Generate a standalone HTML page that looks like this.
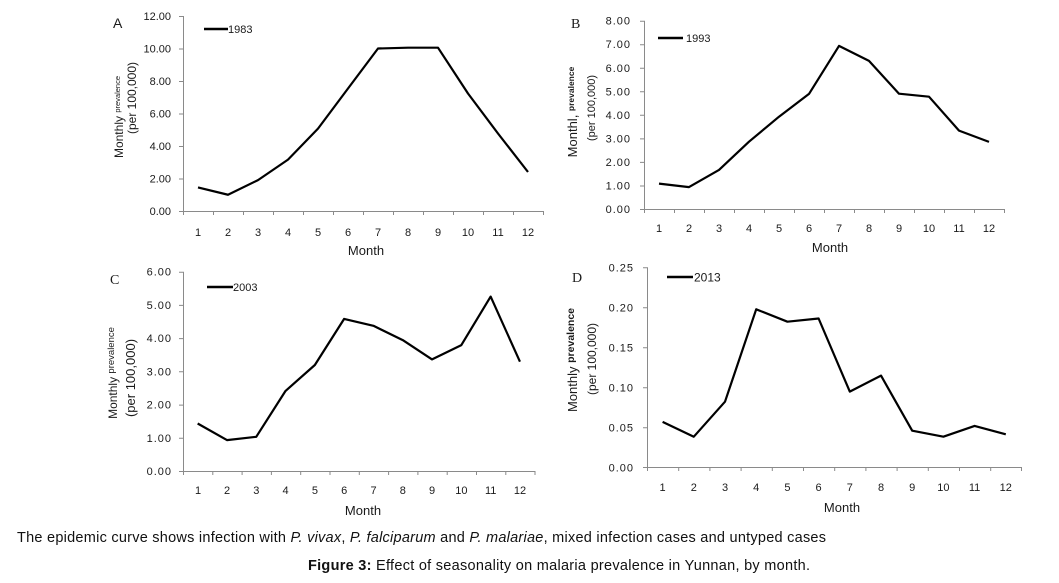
<!DOCTYPE html>
<html><head><meta charset="utf-8"><style>
html,body{margin:0;padding:0;background:#fff;}
svg{display:block;}
text{font-family:"Liberation Sans",Arial,sans-serif;fill:#1a1a1a;}
.tk{font-size:11px;}
.ls{letter-spacing:1px;}
.ax{stroke:#8a8a8a;stroke-width:1;fill:none;}
.ser{stroke:#000;stroke-width:2.2;fill:none;stroke-linejoin:round;}
.leg{stroke:#000;stroke-width:2.6;}
</style></head><body>
<svg width="1059" height="583" viewBox="0 0 1059 583" xmlns="http://www.w3.org/2000/svg">
<rect width="1059" height="583" fill="#fff"/>

<!-- ===== Panel A ===== -->
<text x="113" y="28" font-size="14">A</text>
<path class="ax" d="M183.5 16V211.5H543 M179 211.5H183 M179 179H183 M179 146.5H183 M179 114H183 M179 81.5H183 M179 49H183 M179 16.5H183
M183.5 211V215 M213.5 211V215 M243.5 211V215 M273.5 211V215 M303.5 211V215 M333.5 211V215 M363.5 211V215 M393.5 211V215 M423.5 211V215 M453.5 211V215 M483.5 211V215 M513.5 211V215 M543.5 211V215"/>
<g class="tk" text-anchor="end">
<text x="171" y="215">0.00</text><text x="171" y="182.5">2.00</text><text x="171" y="150">4.00</text><text x="171" y="117.5">6.00</text><text x="171" y="85">8.00</text><text x="171" y="52.5">10.00</text><text x="171" y="20">12.00</text>
</g>
<g class="tk" text-anchor="middle">
<text x="198" y="236">1</text><text x="228" y="236">2</text><text x="258" y="236">3</text><text x="288" y="236">4</text><text x="318" y="236">5</text><text x="348" y="236">6</text><text x="378" y="236">7</text><text x="408" y="236">8</text><text x="438" y="236">9</text><text x="468" y="236">10</text><text x="498" y="236">11</text><text x="528" y="236">12</text>
</g>
<text x="366" y="255" font-size="13" text-anchor="middle">Month</text>
<text transform="translate(123,117) rotate(-90)" text-anchor="middle"><tspan font-size="12">Monthly </tspan><tspan font-size="7.5" dy="-3">prevalence</tspan></text>
<text transform="translate(136,98) rotate(-90)" text-anchor="middle" font-size="12">(per 100,000)</text>
<line class="leg" x1="204" y1="29" x2="228" y2="29"/>
<text x="228" y="33" font-size="11">1983</text>
<polyline class="ser" points="198,187.4 228,194.75 258,180.1 288,159.6 318,128.6 348,88.5 378,48.5 408,47.7 438,47.7 468,93.5 498,133.5 528,172"/>

<!-- ===== Panel B ===== -->
<text x="571" y="28" font-size="14" style="font-family:'Liberation Serif',serif">B</text>
<path class="ax" d="M644.5 20.7V209.5H1004 M640 209.5H644 M640 186H644 M640 162.4H644 M640 138.9H644 M640 115.3H644 M640 91.8H644 M640 68.3H644 M640 44.7H644 M640 21.2H644
M644.5 209V213 M674.5 209V213 M704.5 209V213 M734.5 209V213 M764.5 209V213 M794.5 209V213 M824.5 209V213 M854.5 209V213 M884.5 209V213 M914.5 209V213 M944.5 209V213 M974.5 209V213 M1004.5 209V213"/>
<g class="tk ls" text-anchor="end">
<text x="631" y="213">0.00</text><text x="631" y="189.5">1.00</text><text x="631" y="166">2.00</text><text x="631" y="142.4">3.00</text><text x="631" y="118.8">4.00</text><text x="631" y="95.3">5.00</text><text x="631" y="71.8">6.00</text><text x="631" y="48.2">7.00</text><text x="631" y="24.7">8.00</text>
</g>
<g class="tk" text-anchor="middle">
<text x="659" y="232">1</text><text x="689" y="232">2</text><text x="719" y="232">3</text><text x="749" y="232">4</text><text x="779" y="232">5</text><text x="809" y="232">6</text><text x="839" y="232">7</text><text x="869" y="232">8</text><text x="899" y="232">9</text><text x="929" y="232">10</text><text x="959" y="232">11</text><text x="989" y="232">12</text>
</g>
<text x="830" y="252" font-size="13" text-anchor="middle">Month</text>
<text transform="translate(577,112) rotate(-90)" text-anchor="middle"><tspan font-size="13">Monthl, </tspan><tspan font-size="8.5" font-weight="bold" dy="-3">prevalence</tspan></text>
<text transform="translate(595,108) rotate(-90)" text-anchor="middle" font-size="11">(per 100,000)</text>
<line class="leg" x1="658" y1="38" x2="683" y2="38"/>
<text x="686" y="42" font-size="11">1993</text>
<polyline class="ser" points="659,183.6 689,187.1 719,169.9 749,141.7 779,116.7 809,93.9 839,45.9 869,60.9 899,93.7 929,96.7 959,130.6 989,141.9"/>

<!-- ===== Panel C ===== -->
<text x="110" y="284" font-size="14" style="font-family:'Liberation Serif',serif">C</text>
<path class="ax" d="M183.5 271.7V471.5H535 M179 471.5H183 M179 438.3H183 M179 405.1H183 M179 371.8H183 M179 338.6H183 M179 305.4H183 M179 272.2H183
M183.5 471V475 M212.8 471V475 M242.1 471V475 M271.4 471V475 M300.7 471V475 M330 471V475 M359.3 471V475 M388.6 471V475 M417.9 471V475 M447.2 471V475 M476.5 471V475 M505.8 471V475 M535 471V475"/>
<g class="tk ls" text-anchor="end">
<text x="172" y="475">0.00</text><text x="172" y="441.8">1.00</text><text x="172" y="408.6">2.00</text><text x="172" y="375.3">3.00</text><text x="172" y="342.1">4.00</text><text x="172" y="308.9">5.00</text><text x="172" y="275.7">6.00</text>
</g>
<g class="tk" text-anchor="middle">
<text x="198" y="494">1</text><text x="227" y="494">2</text><text x="256.3" y="494">3</text><text x="285.6" y="494">4</text><text x="314.9" y="494">5</text><text x="344.2" y="494">6</text><text x="373.5" y="494">7</text><text x="402.8" y="494">8</text><text x="432.1" y="494">9</text><text x="461.4" y="494">10</text><text x="490.7" y="494">11</text><text x="520" y="494">12</text>
</g>
<text x="363" y="515" font-size="13" text-anchor="middle">Month</text>
<text transform="translate(117,373) rotate(-90)" text-anchor="middle"><tspan font-size="12">Monthly </tspan><tspan font-size="9.5" dy="-3">prevalence</tspan></text>
<text transform="translate(135,378) rotate(-90)" text-anchor="middle" font-size="13">(per 100,000)</text>
<line class="leg" x1="207" y1="287" x2="233" y2="287"/>
<text x="233" y="291" font-size="11">2003</text>
<polyline class="ser" points="197.65,423.5 226.95,440.1 256.25,436.8 285.55,390.9 314.85,365 344.15,318.9 373.45,325.8 402.75,340.1 432.05,359.4 461.35,345.1 490.65,296.6 519.95,361.7"/>

<!-- ===== Panel D ===== -->
<text x="572" y="282" font-size="14" style="font-family:'Liberation Serif',serif">D</text>
<path class="ax" d="M647.5 267.3V467.5H1021.5 M643 467.5H647 M643 427.8H647 M643 387.8H647 M643 347.8H647 M643 307.8H647 M643 267.8H647
M647.5 467V471 M678.7 467V471 M709.9 467V471 M741.1 467V471 M772.3 467V471 M803.5 467V471 M834.7 467V471 M865.9 467V471 M897.1 467V471 M928.3 467V471 M959.5 467V471 M990.7 467V471 M1021.5 467V471"/>
<g class="tk ls" text-anchor="end">
<text x="634" y="471.3">0.00</text><text x="634" y="431.3">0.05</text><text x="634" y="391.3">0.10</text><text x="634" y="351.3">0.15</text><text x="634" y="311.3">0.20</text><text x="634" y="271.3">0.25</text>
</g>
<g class="tk" text-anchor="middle" font-size="12">
<text x="662.6" y="491">1</text><text x="693.8" y="491">2</text><text x="725" y="491">3</text><text x="756.2" y="491">4</text><text x="787.4" y="491">5</text><text x="818.6" y="491">6</text><text x="849.8" y="491">7</text><text x="881" y="491">8</text><text x="912.2" y="491">9</text><text x="943.4" y="491">10</text><text x="974.6" y="491">11</text><text x="1005.8" y="491">12</text>
</g>
<text x="842" y="512" font-size="13" text-anchor="middle">Month</text>
<text transform="translate(577,360) rotate(-90)" text-anchor="middle"><tspan font-size="13">Monthly </tspan><tspan font-size="10.5" font-weight="bold" dy="-3">prevalence</tspan></text>
<text transform="translate(596,359) rotate(-90)" text-anchor="middle" font-size="12">(per 100,000)</text>
<line class="leg" x1="667" y1="277" x2="693" y2="277"/>
<text x="694" y="281.5" font-size="12">2013</text>
<polyline class="ser" points="662.6,421.9 693.8,436.7 725,401.7 756.2,309.3 787.4,321.7 818.6,318.5 849.8,391.6 881,375.6 912.2,430.7 943.4,436.7 974.6,425.9 1005.8,434.3"/>

<!-- ===== Caption ===== -->
<text x="17" y="542" font-size="14.5" textLength="809" lengthAdjust="spacing" style="fill:#111">The epidemic curve shows infection with <tspan font-style="italic">P. vivax</tspan>, <tspan font-style="italic">P. falciparum</tspan> and <tspan font-style="italic">P. malariae</tspan>, mixed infection cases and untyped cases</text>
<text x="308" y="570" font-size="14.5" textLength="502" lengthAdjust="spacing" style="fill:#111"><tspan font-weight="bold">Figure 3:</tspan> Effect of seasonality on malaria prevalence in Yunnan, by month.</text>
</svg>
</body></html>
